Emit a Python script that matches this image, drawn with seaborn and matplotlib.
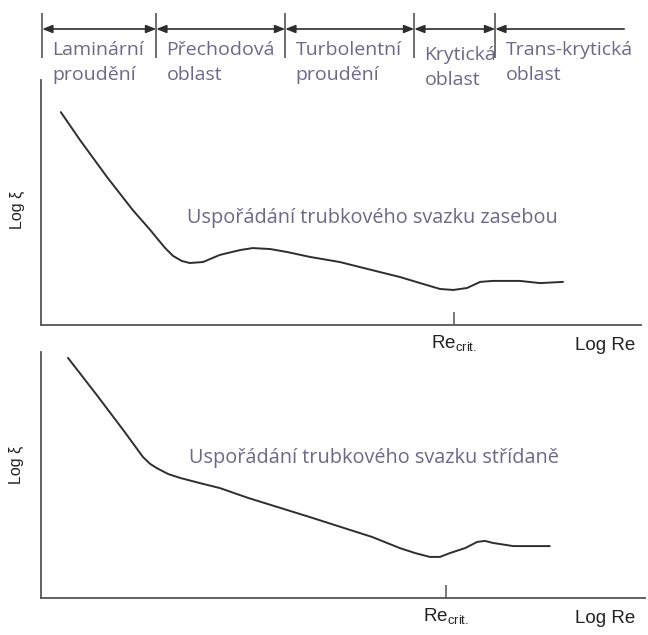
import numpy as np
import pandas as pd
import seaborn as sns
import matplotlib
matplotlib.use('Agg')
import matplotlib.pyplot as plt

# regime bands along Log Re (same units as the curves below)
regimes = ["Laminární\nproudění", "Přechodová\noblast", "Turbolentní\nproudění",
           "Krytická\noblast", "Trans-krytická\noblast"]
regime_bounds = [0.2, 19.2, 40.7, 62.2, 75.7, 97.2]

# in-line tube bundle (top)
inline_logre = [3.3, 6.5, 11.0, 15.3, 18.2, 19.3, 20.7, 22.0, 23.5, 24.8, 27.0, 29.8,
                33.2, 35.3, 38.2, 41.0, 44.8, 49.8, 56.5, 59.8, 63.2, 66.5, 68.7,
                71.0, 73.2, 75.3, 79.8, 83.2, 87.0]
inline_logxi = [86.9, 75.5, 60.4, 46.9, 38.8, 35.5, 31.4, 28.2, 26.1, 25.3, 25.7, 28.6,
                30.6, 31.4, 31.0, 29.8, 27.8, 25.7, 21.6, 19.6, 17.1, 14.7, 14.3,
                15.1, 17.6, 18.0, 18.0, 17.1, 17.6]
inline_recrit = 68.8

# staggered tube bundle (bottom)
stag_logre = [4.5, 9.3, 13.7, 17.0, 18.2, 19.3, 21.2, 23.2, 26.5, 29.8, 34.5,
              44.8, 55.2, 59.8, 62.3, 64.8, 66.5, 68.2, 70.7, 72.7, 74.0, 75.3,
              78.7, 84.8]
stag_logxi = [97.6, 82.5, 68.3, 57.3, 54.5, 52.8, 50.4, 48.8, 46.7, 44.7, 40.7,
              32.9, 24.8, 20.3, 18.3, 16.7, 16.7, 18.3, 20.3, 22.8, 23.2, 22.4,
              21.1, 21.1]
stag_recrit = 67.5

titles = ["Uspořádání trubkového svazku zasebou", "Uspořádání trubkového svazku střídaně"]

sns.set_theme(style='white')
plt.rcParams['font.family'] = ['Liberation Sans', 'DejaVu Sans']
plt.rcParams['mathtext.default'] = 'regular'

W, H = 648, 635
fig = plt.figure(figsize=(W / 100, H / 100), dpi=100)


def px_axes(x0, y0, x1, y1):
    return fig.add_axes([x0 / W, 1 - y1 / H, (x1 - x0) / W, (y1 - y0) / H])


label_color = '#6d6889'
line_color = '#2e2e2e'
axis_color = '#555555'

# header with regime arrows
hax = px_axes(41, 0, 641, 95)
hax.set_xlim(0, 100)
hax.set_ylim(95, 0)
hax.axis('off')
hax.vlines(regime_bounds[:-1], 13, 58, color=axis_color, lw=1.2)
for i in range(len(regimes)):
    a, b = regime_bounds[i], regime_bounds[i + 1]
    style = '<|-|>' if i < len(regimes) - 1 else '<|-'
    hax.annotate('', xy=(b, 29), xytext=(a, 29),
                 arrowprops=dict(arrowstyle=style + ',head_length=0.75,head_width=0.3',
                                 color=line_color, lw=1.2, shrinkA=0, shrinkB=0,
                                 mutation_scale=8))
    dy = 5 if regimes[i].startswith('Kryt') else 0
    hax.text(a + 1.7, 41 + dy, regimes[i], ha='left', va='top', fontsize=14,
             color=label_color, family=['Open Sans', 'DejaVu Sans'], linespacing=1.5)

panels = [
    (px_axes(41, 80, 641, 325), inline_logre, inline_logxi, inline_recrit, 100, (55.2, 43.7)),
    (px_axes(41, 352, 645, 598), stag_logre, stag_logxi, stag_recrit, 100.67, (55.5, 56.9)),
]

for k, (ax, xs, ys, rc, xmax, tpos) in enumerate(panels):
    df = pd.DataFrame({'logre': xs, 'logxi': ys})
    sns.lineplot(data=df, x='logre', y='logxi', ax=ax, color=line_color, lw=1.4)
    ax.set_xlim(0, xmax)
    ax.set_ylim(0, 100)
    sns.despine(ax=ax)
    for s in ['left', 'bottom']:
        ax.spines[s].set_color(axis_color)
        ax.spines[s].set_linewidth(1.3)
    ax.set_facecolor('none')
    ax.set_yticks([])
    ax.set_xticks([rc])
    ax.set_xticklabels(['Re$_{crit.}$'], fontsize=13.5, color='#222222')
    ax.tick_params(axis='x', direction='in', length=9.5, width=1.1,
                   color=axis_color, pad=6, bottom=True)
    ax.set_xlabel('')
    ax.set_ylabel('')
    ax.text(94, -8.5, 'Log Re', ha='center', va='center', fontsize=13.5,
            color='#222222', clip_on=False)
    ax.text(-0.04, 0.47 if k == 0 else 0.54, 'Log ξ', rotation=90, ha='center',
            va='center', fontsize=11.5, color='#222222', transform=ax.transAxes)
    ax.text(tpos[0], tpos[1], titles[k], ha='center', va='center', fontsize=14.3,
            color=label_color, family=['Open Sans', 'DejaVu Sans'])

fig.savefig('out.png', dpi=100)
